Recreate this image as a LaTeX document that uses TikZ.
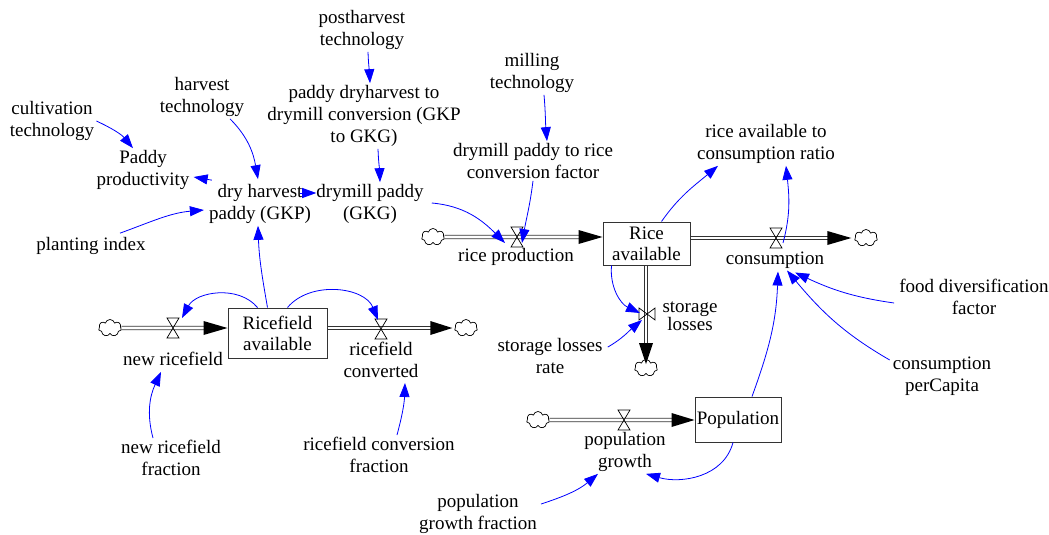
\documentclass[tikz,border=0pt]{standalone}
\usepackage{fontspec}
\setmainfont{Liberation Serif}
\usetikzlibrary{arrows.meta,shapes.symbols}
\definecolor{vblue}{RGB}{0,0,255}
\begin{document}
\begin{tikzpicture}[x=1pt,y=1pt,
  var/.style={align=center, inner sep=2pt, font=\fontsize{19}{22}\selectfont, text=black},
  stock/.style={draw=black!80, line width=1pt, align=center, inner sep=0pt, fill=white, font=\fontsize{19}{21}\selectfont},
  conn/.style={draw=vblue, line width=0.8pt, -{Triangle[length=14pt,width=10pt,fill=vblue]}},
  pipe/.style={draw=black!80, line width=0.9pt, double=white, double distance=2.6pt},
  pipetip/.style={fill=black},
  cloudn/.style={cloud, cloud puffs=7, aspect=1.4, draw, line width=0.7pt, fill=white, minimum width=23pt, minimum height=17pt, inner sep=0pt},
  pics/hvalve/.style={code={\draw[line width=0.7pt] (-6,10) -- (6,10) -- (-6,-10) -- (6,-10) -- cycle;}},
  pics/vvalve/.style={code={\draw[line width=0.7pt] (-8,6) -- (-8,-6) -- (8,6) -- (8,-6) -- cycle;}}
]
\useasboundingbox (0,0) rectangle (1049,-535);

% auxiliaries
\node[var] (cult) at (52,-121) {cultivation\\technology};
\node[var] (pp) at (143,-170) {Paddy\\productivity};
\node[var] (ht) at (202,-97) {harvest\\technology};
\node[var] (dhp) at (260,-204) {dry harvest\\paddy (GKP)};
\node[var] (dmp) at (370,-204) {drymill paddy\\(GKG)};
\node[var] (pi) at (91,-246) {planting index};
\node[var] (pht) at (362,-30) {postharvest\\technology};
\node[var] (pdc) at (364,-116) {paddy dryharvest to\\drymill conversion (GKP\\to GKG)};
\node[var] (mt) at (532,-73) {milling\\technology};
\node[var] (dprc) at (533,-161) {drymill paddy to rice\\conversion factor};
\node[var] (racr) at (766,-144) {rice available to\\consumption ratio};
\node[var] (fdf) at (974,-297) {food diversification\\factor};
\node[var] (cpc) at (942,-376) {consumption\\perCapita};
\node[var] (slr) at (550,-356) {storage losses\\rate};
\node[var] (nrf) at (171,-458) {new ricefield\\fraction};
\node[var] (rcf) at (379,-455) {ricefield conversion\\fraction};
\node[var] (pgf) at (478,-514) {population\\growth fraction};

% flow labels
\node[var] (rpL) at (516,-257) {rice production};
\node[var] (consL) at (775,-260) {consumption};
\node[var, font=\fontsize{19}{15.5}\selectfont] (slL) at (690,-316) {storage\\losses};
\node[var] (nrL) at (173,-359) {new ricefield};
\node[var] (rcL) at (381,-360) {ricefield\\converted};
\node[var] (pgL) at (625,-452) {population\\growth};

% stocks
\node[stock, minimum width=87pt, minimum height=43pt] (RA) at (646.5,-243.5) {Rice\\available};
\node[stock, minimum width=99pt, minimum height=50pt] (RF) at (277.5,-333) {Ricefield\\available};
\node[stock, minimum width=86pt, minimum height=45pt] (Pop) at (738,-419.5) {Population};

% valves
\coordinate (vRP) at (517,-237);
\coordinate (vC) at (776,-238);
\coordinate (vSL) at (647,-314);
\coordinate (vNR) at (173,-328);
\coordinate (vRC) at (381,-329);
\coordinate (vPG) at (624,-420);

% clouds
\node[cloudn] (cRP) at (433,-237) {};
\node[cloudn] (cC) at (866,-238) {};
\node[cloudn] (cSL) at (646,-368) {};
\node[cloudn] (cNR) at (110,-328) {};
\node[cloudn] (cRC) at (466,-328) {};
\node[cloudn] (cPG) at (538,-420) {};

% pipe ends
\coordinate (tRP) at (RA.west |- cRP);
\coordinate (sC) at (RA.east |- cC);
\coordinate (tC) at ([xshift=-3pt]cC.west);
\coordinate (sSL) at (cSL |- RA.south);
\coordinate (tSL) at ([yshift=-5pt]cSL.north);
\coordinate (tNR) at (RF.west |- cNR);
\coordinate (sRC) at (RF.east |- cRC);
\coordinate (tRC) at ([xshift=-2pt]cRC.west);
\coordinate (tPG) at (Pop.west |- cPG);

% pipes
\draw[pipe] (cRP.east) -- ([xshift=-20pt]tRP);
\fill[pipetip] (tRP) -- ++(-24,7) -- ++(0,-14) -- cycle;
\draw[pipe] (sC) -- ([xshift=-20pt]tC);
\fill[pipetip] (tC) -- ++(-24,7) -- ++(0,-14) -- cycle;
\draw[pipe] (sSL) -- ([yshift=18pt]tSL);
\fill[pipetip] (tSL) -- ++(-7,21) -- ++(14,0) -- cycle;
\draw[pipe] (cNR.east) -- ([xshift=-20pt]tNR);
\fill[pipetip] (tNR) -- ++(-24,7) -- ++(0,-14) -- cycle;
\draw[pipe] (sRC) -- ([xshift=-20pt]tRC);
\fill[pipetip] (tRC) -- ++(-22,7) -- ++(0,-14) -- cycle;
\draw[pipe] (cPG.east) -- ([xshift=-20pt]tPG);
\fill[pipetip] (tPG) -- ++(-23,7) -- ++(0,-14) -- cycle;

\pic at (vRP) {hvalve};
\pic at (vC) {hvalve};
\pic at (vNR) {hvalve};
\pic at (vRC) {hvalve};
\pic at (vPG) {hvalve};
\pic at (vSL) {vvalve};

% connectors
\draw[conn] (cult.east) to[out=-25,in=130] ([xshift=-10pt]pp.north);
\draw[conn] ([xshift=5pt,yshift=2pt]dhp.north west) -- ([xshift=2pt,yshift=-7pt]pp.east);
\draw[conn] ([xshift=28pt]ht.south) to[out=-45,in=100] ([xshift=-2pt,yshift=3pt]dhp.north);
\draw[conn] ([xshift=29pt,yshift=2pt]pi.north) to[out=20,in=185] ([xshift=-3pt,yshift=-6pt]dhp.west);
\draw[conn] ([xshift=-10pt]RF.north) to[out=100,in=-88] ([xshift=-2pt]dhp.south);
\draw[conn] ([xshift=-13pt,yshift=11pt]dhp.east) -- ([xshift=2pt,yshift=11pt]dmp.west);
\draw[conn] ([xshift=6pt]pht.south) to[out=-88,in=93] ([xshift=6pt]pdc.north);
\draw[conn] ([xshift=14pt]pdc.south) to[out=-88,in=92] ([xshift=10pt]dmp.north);
\draw[conn] ([xshift=12pt]mt.south) to[out=-85,in=95] ([xshift=14pt]dprc.north);
\draw[conn] ([xshift=6pt,yshift=1pt]dmp.east) to[out=-5,in=135] ([xshift=-12pt,yshift=-6pt]vRP);
\draw[conn] (dprc.south) to[out=-97,in=80] ([xshift=5pt,yshift=-6pt]vRP);
\draw[conn] ([xshift=15pt]RA.north) to[out=55,in=-140] ([xshift=-48pt]racr.south);
\draw[conn] ([xshift=7pt,yshift=-5pt]vC) to[out=75,in=-84] ([xshift=20pt]racr.south);
\draw[conn] ([xshift=9pt]RA.south west) to[out=-95,in=155] ([xshift=-7pt,yshift=1pt]vSL);
\draw[conn] ([xshift=3pt,yshift=-11pt]slr.north east) to[out=30,in=-140] ([xshift=-5pt,yshift=-6pt]vSL);
\draw[conn] ([xshift=14pt]Pop.north) to[out=70,in=-92] ([xshift=3pt,yshift=-1pt]consL.south);
\draw[conn] ([xshift=-1pt,yshift=16pt]cpc.west) to[out=150,in=-50] ([xshift=12pt]consL.south);
\draw[conn] ([xshift=-3pt,yshift=-6pt]fdf.west) to[out=172,in=-25] ([xshift=20pt,yshift=-2pt]consL.south);
\draw[conn] ([xshift=-20pt]RF.north) to[out=130,in=62] ([xshift=9pt,yshift=10pt]vNR);
\draw[conn] ([xshift=10pt]RF.north) to[out=50,in=112] ([xshift=-3pt,yshift=9pt]vRC);
\draw[conn] ([xshift=-18pt]nrf.north) to[out=105,in=-115] ([xshift=-12pt,yshift=-4pt]nrL.south);
\draw[conn] ([xshift=18pt]rcf.north) to[out=75,in=-92] ([xshift=24pt,yshift=-3pt]rcL.south);
\draw[conn] ([xshift=2pt,yshift=10pt]pgf.east) to[out=18,in=-140] ([xshift=-27pt]pgL.south);
\draw[conn] ([xshift=-5pt]Pop.south) to[out=-105,in=-16] ([xshift=21pt]pgL.south);
\end{tikzpicture}
\end{document}
